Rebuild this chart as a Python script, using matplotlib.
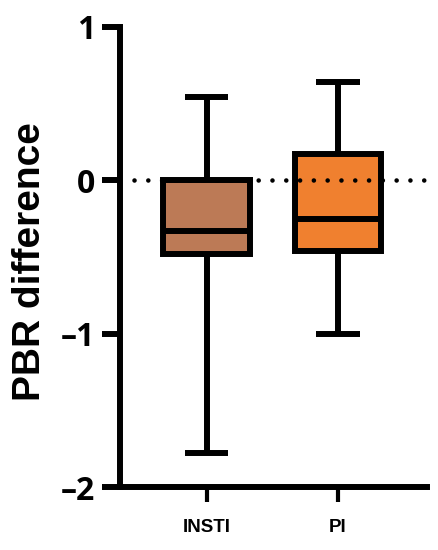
import matplotlib.pyplot as plt
import numpy as np

# data

groups = ['INSTI', 'PI']
q1 = [-0.48, -0.46]
med = [-0.33, -0.25]
q3 = [0.0, 0.17]
whis_lo = [-1.78, -1.0]
whis_hi = [0.54, 0.64]
colors = ['#BC7A56', '#F0802F']

yticks = [-2, -1, 0, 1]

lw = 4.3

fig = plt.figure(figsize=(4.39, 5.5), dpi=100)
ax = fig.add_axes([0.273, 0.1145, 0.7, 0.8365])

stats = []
for i, g in enumerate(groups):
    stats.append({'label': g, 'q1': q1[i], 'med': med[i], 'q3': q3[i],
                  'whislo': whis_lo[i], 'whishi': whis_hi[i], 'fliers': []})

bp = ax.bxp(stats, positions=np.arange(len(groups)), widths=0.66, capwidths=0.33,
            patch_artist=True, showfliers=False,
            boxprops=dict(linewidth=lw, edgecolor='black'),
            medianprops=dict(linewidth=lw, color='black', solid_capstyle='butt'),
            whiskerprops=dict(linewidth=lw, color='black', solid_capstyle='butt'),
            capprops=dict(linewidth=lw, color='black', solid_capstyle='butt'))
for patch, c in zip(bp['boxes'], colors):
    patch.set_facecolor(c)
    patch.set_joinstyle('miter')

# dotted zero line over the boxes
ax.axhline(0, xmin=0.045, xmax=1.0, color='black', lw=3.3,
           linestyle=(0, (0.01, 3.0)), dash_capstyle='round', zorder=5)

ax.set_xlim(-0.66, 1.68)
ax.set_ylim(-2, 1)
ax.set_yticks(yticks)
ax.set_yticklabels(['\u2013' + str(abs(t)) if t < 0 else str(t) for t in yticks],
                   fontsize=23, fontweight='bold', family='Open Sans')
ax.set_xticks(np.arange(len(groups)))
ax.set_xticklabels(groups, fontsize=13.5, fontweight='bold', family='Liberation Sans')

ax.set_ylabel('PBR difference', fontsize=28, fontweight='bold', family='Liberation Sans')
ax.yaxis.set_label_coords(-0.235, 0.49)

for s in ['top', 'right']:
    ax.spines[s].set_visible(False)
for s in ['left', 'bottom']:
    ax.spines[s].set_linewidth(lw)
    ax.spines[s].set_capstyle('projecting')

ax.tick_params(axis='y', length=13, width=lw, pad=5)
ax.tick_params(axis='x', length=11, width=3, pad=12)

fig.savefig('out.png', dpi=100)
